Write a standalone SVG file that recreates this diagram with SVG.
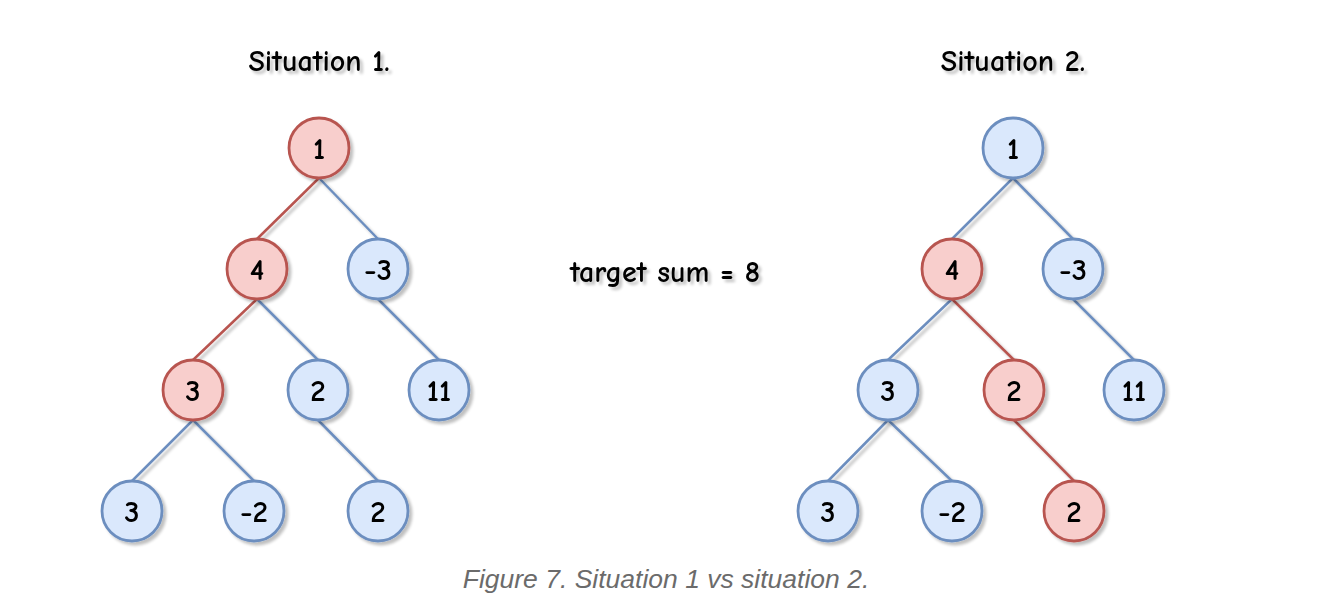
<svg xmlns="http://www.w3.org/2000/svg" width="1320" height="616" viewBox="0 0 1320 616">
<defs>
<filter id="sh" x="-30%" y="-30%" width="170%" height="170%">
<feGaussianBlur in="SourceAlpha" stdDeviation="1.8"/>
<feOffset dx="3" dy="3" result="b"/>
<feComponentTransfer><feFuncA type="linear" slope="0.25"/></feComponentTransfer>
<feMerge><feMergeNode/><feMergeNode in="SourceGraphic"/></feMerge>
</filter>
<style>
.b circle{fill:#dae8fc;stroke:#6c8ebf;stroke-width:2.8}
.r circle{fill:#f8cecc;stroke:#b85450;stroke-width:2.8}
.n text{font-family:"Comic Sans MS","Comic Neue","Liberation Sans",sans-serif;font-size:31px;font-weight:bold;fill:#000;text-anchor:middle;dominant-baseline:central}
.t{font-family:"Comic Sans MS","Comic Neue","Liberation Sans",sans-serif;font-size:30px;font-weight:bold;fill:#000;text-anchor:middle}
.cap{font-family:"Liberation Sans",Arial,sans-serif;font-style:italic;font-size:26.5px;fill:#6b6b6b;text-anchor:middle}
.eb{stroke:#6c8ebf;stroke-width:2.5;fill:none}
.er{stroke:#b85450;stroke-width:2.5;fill:none}
</style>
</defs>
<rect width="1320" height="616" fill="#fff"/>
<g id="connectors" filter="url(#sh)">
<line class="er" x1="319" y1="178" x2="257" y2="239"/>
<line class="eb" x1="319" y1="178" x2="378" y2="239"/>
<line class="er" x1="257" y1="299" x2="193" y2="360"/>
<line class="eb" x1="257" y1="299" x2="318" y2="360"/>
<line class="eb" x1="378" y1="299" x2="439" y2="360"/>
<line class="eb" x1="193" y1="420" x2="132" y2="481"/>
<line class="eb" x1="193" y1="420" x2="254" y2="481"/>
<line class="eb" x1="318" y1="420" x2="378" y2="481"/>
<line class="eb" x1="1013" y1="178" x2="952" y2="239"/>
<line class="eb" x1="1013" y1="178" x2="1073" y2="239"/>
<line class="eb" x1="952" y1="299" x2="888" y2="360"/>
<line class="er" x1="952" y1="299" x2="1014" y2="360"/>
<line class="eb" x1="1073" y1="299" x2="1134" y2="360"/>
<line class="eb" x1="888" y1="420" x2="828" y2="481"/>
<line class="eb" x1="888" y1="420" x2="952" y2="481"/>
<line class="er" x1="1014" y1="420" x2="1074" y2="481"/>
</g>
<g id="L1" class="n r" filter="url(#sh)"><circle cx="319" cy="148" r="30"/><text x="319" y="149">1</text></g>
<g id="L4" class="n r" filter="url(#sh)"><circle cx="257" cy="269" r="30"/><text x="257" y="270">4</text></g>
<g id="Lm3" class="n b" filter="url(#sh)"><circle cx="378" cy="269" r="30"/><text x="378" y="270">-3</text></g>
<g id="L3" class="n r" filter="url(#sh)"><circle cx="193" cy="390" r="30"/><text x="193" y="391">3</text></g>
<g id="L2" class="n b" filter="url(#sh)"><circle cx="318" cy="390" r="30"/><text x="318" y="391">2</text></g>
<g id="L11" class="n b" filter="url(#sh)"><circle cx="439" cy="390" r="30"/><text x="439" y="391">11</text></g>
<g id="L3b" class="n b" filter="url(#sh)"><circle cx="132" cy="511" r="30"/><text x="132" y="512">3</text></g>
<g id="Lm2" class="n b" filter="url(#sh)"><circle cx="254" cy="511" r="30"/><text x="254" y="512">-2</text></g>
<g id="L2b" class="n b" filter="url(#sh)"><circle cx="378" cy="511" r="30"/><text x="378" y="512">2</text></g>
<g id="R1" class="n b" filter="url(#sh)"><circle cx="1013" cy="148" r="30"/><text x="1013" y="149">1</text></g>
<g id="R4" class="n r" filter="url(#sh)"><circle cx="952" cy="269" r="30"/><text x="952" y="270">4</text></g>
<g id="Rm3" class="n b" filter="url(#sh)"><circle cx="1073" cy="269" r="30"/><text x="1073" y="270">-3</text></g>
<g id="R3" class="n b" filter="url(#sh)"><circle cx="888" cy="390" r="30"/><text x="888" y="391">3</text></g>
<g id="R2" class="n r" filter="url(#sh)"><circle cx="1014" cy="390" r="30"/><text x="1014" y="391">2</text></g>
<g id="R11" class="n b" filter="url(#sh)"><circle cx="1134" cy="390" r="30"/><text x="1134" y="391">11</text></g>
<g id="R3b" class="n b" filter="url(#sh)"><circle cx="828" cy="511" r="30"/><text x="828" y="512">3</text></g>
<g id="Rm2" class="n b" filter="url(#sh)"><circle cx="952" cy="511" r="30"/><text x="952" y="512">-2</text></g>
<g id="R2b" class="n r" filter="url(#sh)"><circle cx="1074" cy="511" r="30"/><text x="1074" y="512">2</text></g>
<g id="labels" filter="url(#sh)">
<text class="t" x="319" y="71">Situation 1.</text>
<text class="t" x="1013" y="71">Situation 2.</text>
<text class="t" x="665" y="282">target sum = 8</text>
</g>
<text class="cap" x="666" y="588">Figure 7. Situation 1 vs situation 2.</text>
</svg>
